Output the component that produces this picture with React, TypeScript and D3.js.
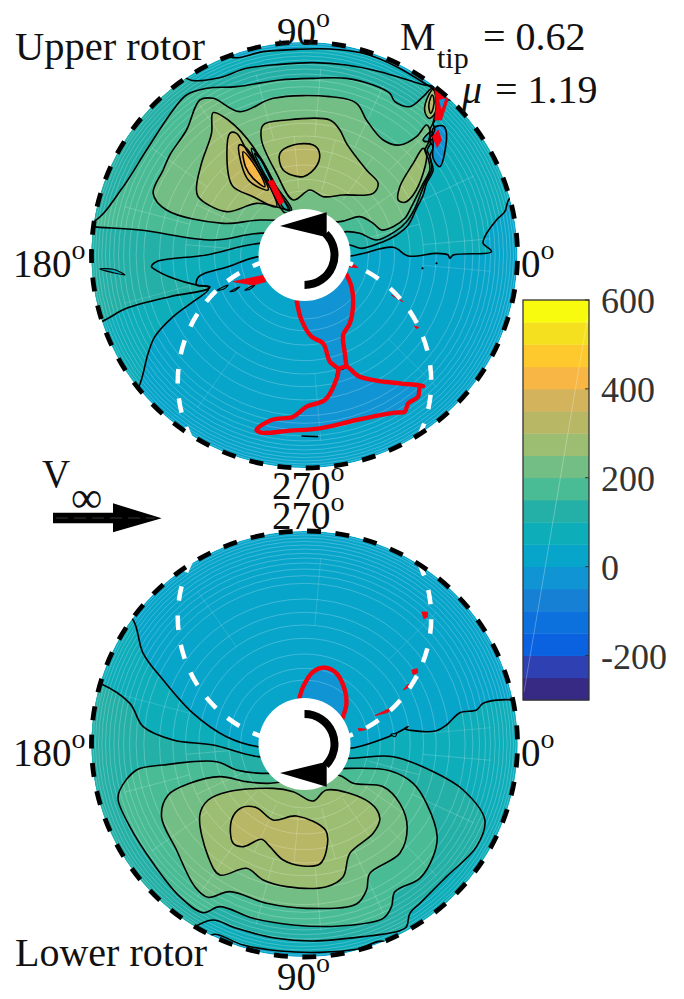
import React from "react";
import * as d3 from "d3";

type P = [number, number];

// Colour scale (bottom to top of the colour bar), 50 per band
const cbarTicks = [-200, 0, 200, 400, 600];
const cbarDomain: [number, number] = [-300, 600];
const colorBands = ["#362a85","#2f40b3","#0a62e1","#0c70dd","#1580d4","#1094d4","#08a5cb","#0eadba","#24b0a6","#49bc96","#73be84","#9cbe72","#b8b766","#d4b35d","#f8b744","#fdc92d","#f4e01f","#f9fb0e"];
const mu = 1.19;

// Contours, rotor-plane coordinates (rotor tip = 639), y pointing to 90 deg on the upper rotor plane
const U75: P[] = [[-499,-400],[-469,-295],[-449,-245],[-394,-185],[-334,-140],[-289,-105],[-289,-95],[-324,-90],[-319,-67],[-299,-55],[-229,-35],[-139,-5],[136,-3],[266,23],[311,-3],[396,5],[431,0],[436,-10],[446,0],[561,10],[536,35],[541,55],[576,105],[601,130],[616,170],[720,200],[700,500],[520,560],[436,465],[376,505],[276,565],[176,605],[76,618],[-24,617],[-124,610],[-224,595],[-300,700],[-800,700],[-800,-500],[-560,-480]];
const U125: P[] = [[-609,-200],[-534,-160],[-404,-125],[-289,-102],[-284,-95],[-324,-90],[-394,-70],[-454,-40],[-459,-35],[-444,-20],[-294,0],[-134,35],[136,30],[171,20],[236,40],[276,60],[311,90],[336,140],[356,180],[366,215],[386,255],[376,295],[386,325],[374,345],[391,375],[386,395],[400,455],[385,505],[361,510],[326,520],[226,550],[126,570],[26,577],[-74,572],[-174,560],[-264,530],[-354,530],[-400,620],[-800,300],[-800,-300],[-700,-230]];
const U175: P[] = [[-634,100],[-544,205],[-474,315],[-394,435],[-354,480],[-294,500],[-204,505],[-74,525],[26,530],[126,530],[206,510],[256,485],[271,460],[316,445],[356,475],[384,500],[401,445],[391,405],[376,375],[378,335],[368,315],[378,290],[381,255],[361,215],[351,190],[331,140],[306,100],[271,70],[216,45],[166,65],[126,70],[106,65],[-139,65],[-274,45],[-494,75],[-639,85],[-720,95]];
const U225: P[] = [[-454,185],[-424,255],[-404,300],[-354,375],[-314,465],[-274,470],[-194,430],[-94,470],[76,475],[156,455],[186,405],[236,345],[286,330],[336,355],[366,390],[376,375],[371,335],[361,315],[371,290],[376,255],[356,215],[341,185],[321,145],[301,110],[266,85],[231,75],[206,95],[166,115],[106,100],[-134,105],[-244,95],[-414,135]];
const U275a: P[] = [[-274,427],[-229,405],[-154,325],[-84,195],[-44,135],[-84,145],[-144,155],[-234,130],[-319,175],[-324,205],[-309,275],[-279,365]];
const U275b: P[] = [[-124,390],[-54,405],[76,405],[106,375],[126,335],[186,255],[221,215],[206,185],[116,180],[56,175],[16,195],[-34,165],[-84,245],[-129,345]];
const U275c: P[] = [[356,320],[326,275],[286,205],[281,165],[301,158],[326,180],[356,245],[366,305]];
const U275d: P[] = [[386,497],[366,465],[361,430],[374,410],[391,425],[394,470]];
const U325a: P[] = [[-224,365],[-204,365],[-174,315],[-114,225],[-84,145],[-154,175],[-214,205],[-229,245]];
const U325b: P[] = [[-74,305],[-34,330],[26,330],[44,310],[38,270],[-4,235],[-64,255]];
const U325c: P[] = [[383,480],[373,450],[378,425],[386,440],[388,470]];
const U375: P[] = [[-196,330],[-174,320],[-124,235],[-109,195],[-164,220],[-184,255]];
const U425: P[] = [[-184,310],[-164,290],[-124,225],[-119,205],[-154,230],[-177,265]];
const UFront: P[] = [[-159,320],[-134,295],[-84,205],[-39,135],[-59,127],[-104,205],[-144,275]];
const UFrontInner: P[] = [[-150,305],[-130,285],[-82,198],[-49,137],[-62,140],[-98,205],[-136,272]];
const UWedge: P[] = [[356,345],[381,370],[386,350],[366,340]];
const UIsle1: P[] = [[-614,-42],[-574,-43],[-539,-60],[-574,-53]];
const UIsle2: P[] = [[-262,-105],[-229,-90],[-244,-103]];
const UIsle3: P[] = [[-224,-110],[-194,-95],[-209,-107]];
const UIsle4: P[] = [[-179,-105],[-149,-90],[-164,-103]];
const UNeck: P[] = [[-24,-135],[-9,-195],[21,-245],[56,-265],[76,-320],[101,-343],[126,-335],[121,-295],[116,-240],[136,-205],[146,-145],[141,-95],[124,-55],[0,0]];
const UNegLobe: P[] = [[101,-343],[91,-385],[61,-435],[6,-455],[-34,-485],[-99,-495],[-144,-525],[-129,-533],[-44,-527],[46,-520],[156,-495],[271,-473],[301,-470],[311,-445],[341,-425],[346,-395],[356,-393],[286,-385],[216,-377],[161,-363],[126,-335]];
const UBlueLobe: P[] = [[386,380],[416,387],[426,365],[406,265],[386,290],[386,335]];
const UBlueV: P[] = [[404,465],[423,470],[411,435]];
const UZeroA: P[] = [[-24,-135],[-9,-195],[21,-245],[56,-265],[76,-320],[101,-343],[91,-385],[61,-435],[6,-455],[-34,-485],[-99,-495],[-144,-525],[-129,-533],[-44,-527],[46,-520],[156,-495],[271,-473],[301,-470],[311,-445],[341,-425],[346,-395],[356,-393],[286,-385],[216,-377],[161,-363],[126,-335],[101,-343]];
const UZeroB: P[] = [[126,-335],[121,-295],[116,-240],[136,-205],[146,-145],[141,-95],[124,-55]];
const URedBits: P[][] = [
  [[-109,220],[-94,225],[-62,160],[-74,150]],
  [[391,500],[431,467],[411,405],[391,405],[396,450]],
  [[401,375],[411,345],[398,323],[384,355]],
  [[-214,-80],[-119,-60],[-116,-80],[-154,-90],[-184,-85]],
  [[126,-35],[161,-38],[151,-30]],
  [[261,-120],[296,-140],[286,-135]],
  [[329,-213],[343,-217],[336,-221]],
];
const UMarks: P[] = [[-9,-543],[41,-545]];
const UDots: P[] = [[354,-40],[396,-25]];

const L75: P[] = [[-514,372],[-484,272],[-424,192],[-334,92],[-234,22],[-139,-8],[136,-13],[226,12],[271,30],[311,52],[301,47],[326,40],[396,40],[426,57],[466,94],[516,102],[536,122],[626,132],[720,100],[720,-720],[300,-700],[241,-593],[156,-616],[46,-625],[-74,-621],[-184,-603],[-279,-573],[-320,-680],[-800,-680],[-800,400],[-570,420]];
const L125: P[] = [[-614,182],[-524,122],[-484,52],[-394,12],[-274,-3],[-139,-38],[131,-43],[266,-38],[386,-83],[476,-138],[541,-228],[516,-308],[426,-398],[346,-478],[316,-508],[306,-548],[286,-560],[176,-578],[26,-591],[-84,-583],[-204,-553],[-274,-528],[-319,-543],[-400,-600],[-800,-500],[-800,250],[-680,200]];
const L175: P[] = [[-554,-138],[-504,-78],[-424,-63],[-264,-53],[-204,-78],[-129,-88],[131,-73],[256,-80],[326,-118],[366,-178],[398,-278],[386,-338],[346,-403],[271,-443],[261,-488],[236,-523],[106,-546],[-34,-543],[-154,-523],[-254,-488],[-304,-506],[-374,-458],[-454,-358],[-524,-248],[-559,-168]];
const L225: P[] = [[-429,-218],[-409,-153],[-344,-118],[-254,-98],[-174,-113],[-109,-118],[101,-93],[146,-118],[236,-128],[286,-178],[308,-248],[286,-328],[196,-388],[186,-438],[156,-480],[6,-493],[-114,-478],[-224,-443],[-289,-460],[-329,-428],[-384,-318]];
const L275: P[] = [[-314,-213],[-289,-168],[-229,-143],[-94,-133],[-34,-143],[26,-171],[66,-138],[196,-176],[226,-223],[206,-268],[136,-328],[116,-398],[66,-428],[-54,-428],[-124,-408],[-174,-373],[-254,-393],[-289,-338]];
const L325: P[] = [[-219,-228],[-189,-191],[-144,-191],[-94,-228],[-24,-216],[64,-260],[66,-318],[46,-360],[-4,-366],[-64,-348],[-104,-308],[-129,-286],[-184,-308],[-214,-298]];
const LNeg: P[] = [[-16,134],[-4,172],[26,217],[61,229],[96,212],[121,162],[126,122],[113,75],[0,0]];
const LZero: P[] = [[-16,134],[-4,172],[26,217],[61,229],[96,212],[121,162],[126,122],[113,75]];
const LIsle: P[] = [[259,29],[276,30],[271,22]];
const LRedBits: P[][] = [
  [[352,396],[370,396],[368,380],[358,376]],
  [[322,222],[338,226],[340,214],[326,208]],
  [[296,162],[311,180],[316,172]],
  [[211,85],[256,107],[251,95]],
  [[161,47],[186,44],[164,39]],
];

// Mesh lines of the plotted grid
const gridRadii = [192,227,270,317,357,395,435,482,505,525,543,558,572,585,597,608,618,627,634];
const spokeAngles = d3.range(5, 180, 10);
const spokeRunsInner = [200, 357];
const spokeRunsOuter = [357, 560];

const V = d3.scaleLinear().domain(cbarDomain).range([700, 300]);
const bandColor = d3.scaleQuantize<string>().domain(cbarDomain).range(colorBands);
const R = 213;
const CX = 304.5;
const FONT = "'Liberation Serif','Times New Roman',serif";
const RED = "#f5000f";

type Layer = { pts: P[]; v: number };

function Disc({ id, cy, flip, layers, thin, zero, bits, extra, rimOffset, whiteOffset }: any) {
  const x = d3.scaleLinear().domain([-639, 639]).range([CX - R, CX + R]);
  const y = d3.scaleLinear().domain([-639, 639]).range([cy + R, cy - R]);
  const smooth = d3.line<P>().x(d => x(d[0])).y(d => y(d[1])).curve(d3.curveCatmullRomClosed.alpha(0.5));
  const open = d3.line<P>().x(d => x(d[0])).y(d => y(d[1])).curve(d3.curveCatmullRom.alpha(0.5));
  const closed = d3.line<P>().x(d => x(d[0])).y(d => y(d[1])).curve(d3.curveLinearClosed);
  const sign = flip ? -1 : 1;
  const circleR = (mu / 2) * R;
  const armArc = d3.arc();
  const arm = flip
    ? armArc({ innerRadius: 26, outerRadius: 34, startAngle: 0, endAngle: (3 * Math.PI) / 4 } as any)
    : armArc({ innerRadius: 26, outerRadius: 34, startAngle: Math.PI / 4, endAngle: Math.PI } as any);
  const head = flip
    ? `M280,${cy + 29}L326.7,${cy + 17.7}L326.7,${cy + 42.7}Z`
    : `M280,${cy - 29}L326.7,${cy - 42.7}L326.7,${cy - 17.7}Z`;
  return (
    <g>
      <defs>
        <clipPath id={id}><circle cx={CX} cy={cy} r={R} /></clipPath>
      </defs>
      <g clipPath={`url(#${id})`}>
        <circle cx={CX} cy={cy} r={R} fill={bandColor(25)} />
        {layers.map((l: Layer, i: number) => (
          <path key={i} d={smooth(l.pts) as string} fill={bandColor(l.v)} />
        ))}
        {gridRadii.map(r => (
          <circle key={r} cx={CX} cy={cy} r={x(r) - x(0)} fill="none" stroke="#fff" strokeOpacity={0.32} strokeWidth={0.7} />
        ))}
        {spokeAngles.map((a, i) => {
          const t = (a * Math.PI) / 180;
          const run = i % 2 ? spokeRunsInner : spokeRunsOuter;
          return (
            <g key={a}>
              <line x1={x(run[0] * Math.cos(t))} y1={y(sign * run[0] * Math.sin(t))} x2={x(run[1] * Math.cos(t))} y2={y(sign * run[1] * Math.sin(t))} stroke="#fff" strokeOpacity={0.28} strokeWidth={0.7} />
              {i % 4 === 0 && (
                <line x1={x(run[0] * Math.cos(t))} y1={y(-sign * run[0] * Math.sin(t))} x2={x(run[1] * Math.cos(t))} y2={y(-sign * run[1] * Math.sin(t))} stroke="#fff" strokeOpacity={0.2} strokeWidth={0.7} />
              )}
            </g>
          );
        })}
        {layers.map((l: Layer, i: number) => (
          <path key={i} d={smooth(l.pts) as string} fill="none" stroke="#000" strokeWidth={1.6} />
        ))}
        {thin.map((pts: P[], i: number) => (
          <path key={i} d={smooth(pts) as string} fill={bandColor(75)} stroke="#000" strokeWidth={1.1} />
        ))}
        {zero.map((pts: P[], i: number) => (
          <path key={i} d={open(pts) as string} fill="none" stroke={RED} strokeWidth={4.4} strokeLinejoin="round" />
        ))}
        {bits.map((pts: P[], i: number) => (
          <path key={i} d={closed(pts) as string} fill={RED} stroke={RED} strokeWidth={0.8} />
        ))}
        {extra && extra(x, y)}
        <circle cx={CX} cy={cy + (flip ? -1 : 1) * circleR} r={circleR} fill="none" stroke="#fff" strokeWidth={4.5} strokeDasharray="14.5 14.98" strokeDashoffset={whiteOffset} />
      </g>
      <circle cx={CX} cy={cy} r={46} fill="#fff" />
      <path d={arm as string} transform={`translate(${CX},${cy})`} fill="#000" />
      <path d={head} fill="#000" />
      <circle cx={CX} cy={cy} r={R} fill="none" stroke="#000" strokeWidth={4.8} strokeDasharray="14 14.47" strokeDashoffset={rimOffset} />
    </g>
  );
}

function Deg({ x, y, t }: { x: number; y: number; t: string }) {
  return (
    <text x={x} y={y} fontSize={39} fontFamily={FONT} fill="#111">
      {t}
      <tspan dy={-18} fontSize={28}>o</tspan>
    </text>
  );
}

export default function App() {
  const upperLayers: Layer[] = [
    { pts: U75, v: 75 }, { pts: U125, v: 125 }, { pts: U175, v: 175 }, { pts: U225, v: 225 },
    { pts: U275a, v: 275 }, { pts: U275b, v: 275 }, { pts: U275c, v: 275 }, { pts: U275d, v: 275 },
    { pts: U325a, v: 325 }, { pts: U325b, v: 325 }, { pts: U325c, v: 325 },
    { pts: U375, v: 375 }, { pts: U425, v: 425 }, { pts: UFront, v: 175 }, { pts: UFrontInner, v: 125 }, { pts: UWedge, v: 125 },
    { pts: UNeck, v: -25 }, { pts: UNegLobe, v: -25 }, { pts: UBlueLobe, v: -25 },
  ];
  const lowerLayers: Layer[] = [
    { pts: L75, v: 75 }, { pts: L125, v: 125 }, { pts: L175, v: 175 }, { pts: L225, v: 225 },
    { pts: L275, v: 275 }, { pts: L325, v: 325 }, { pts: LNeg, v: -25 },
  ];
  const cb = V.range();
  const bands = d3.range(cbarDomain[0], cbarDomain[1], 50);
  return (
    <svg width={684} height={999} style={{ position: "absolute", left: 0, top: 0, display: "block", background: "#fff" }}>
      <Disc
        id="clipU" cy={255} flip={false} layers={upperLayers} rimOffset={22.5} whiteOffset={16.5}
        thin={[UIsle1, UIsle2, UIsle3, UIsle4]} zero={[UZeroA, UZeroB]} bits={URedBits}
        extra={(x: any, y: any) => (
          <g>
            <path d={d3.line<P>().x(d => x(d[0])).y(d => y(d[1]))(UBlueV) as string} fill={bandColor(-25)} />
            <line x1={x(UMarks[0][0])} y1={y(UMarks[0][1])} x2={x(UMarks[1][0])} y2={y(UMarks[1][1])} stroke="#000" strokeWidth={1.6} />
            {UDots.map((d, i) => <circle key={i} cx={x(d[0])} cy={y(d[1])} r={1.1} fill="#000" />)}
          </g>
        )}
      />
      <Disc
        id="clipL" cy={744} flip={true} layers={lowerLayers} rimOffset={19} whiteOffset={27.5}
        thin={[LIsle]} zero={[LZero]} bits={LRedBits}
      />

      {/* colour bar */}
      {bands.map(b => (
        <rect key={b} x={523} y={V(b + 50)} width={66} height={V(b) - V(b + 50) + 0.4} fill={bandColor(b + 25)} />
      ))}
      <line x1={524} y1={692} x2={588} y2={315} stroke="#fff" strokeOpacity={0.4} strokeWidth={0.7} />
      <rect x={523} y={cb[1]} width={66} height={cb[0] - cb[1]} fill="none" stroke="#333" strokeWidth={1.3} />
      {cbarTicks.map(t => (
        <g key={t}>
          <line x1={585} x2={589} y1={V(t)} y2={V(t)} stroke="#333" strokeWidth={1} />
          <text x={601} y={V(t) + 13} fontSize={36} fontFamily={FONT} fill="#333">{t}</text>
        </g>
      ))}

      {/* text */}
      <text x={15} y={60} fontSize={40.5} fontFamily={FONT} fill="#111">Upper rotor</text>
      <text x={15} y={966} fontSize={40} fontFamily={FONT} fill="#111">Lower rotor</text>
      <Deg x={277} y={45} t="90" />
      <Deg x={277} y={990} t="90" />
      <Deg x={13} y={277} t="180" />
      <Deg x={13} y={766} t="180" />
      <Deg x={521} y={277} t="0" />
      <Deg x={521} y={766} t="0" />
      <Deg x={272} y={499} t="270" />
      <Deg x={272} y={529} t="270" />
      <text x={400} y={50} fontSize={40} fontFamily={FONT} fill="#111">M</text>
      <text x={437} y={68} fontSize={30} fontFamily={FONT} fill="#111">tip</text>
      <text x={483} y={50} fontSize={40} fontFamily={FONT} fill="#111">= 0.62</text>
      <text x={462} y={103} fontSize={40} fontFamily={FONT} fontStyle="italic" fill="#111">{"\u03bc"}</text>
      <text x={495} y={103} fontSize={40} fontFamily={FONT} fill="#111">= 1.19</text>
      <text x={42} y={487} fontSize={39} fontFamily={FONT} fill="#111">V</text>
      <text x={71} y={512} fontSize={44} fontFamily={FONT} fill="#111">{"\u221e"}</text>
      <path d="M53,512.7L113,512.7L113,503.3L161.7,518.3L113,532.3L113,523.3L53,523.3Z" fill="#000" />
      <line x1={56} y1={518} x2={155} y2={518} stroke="#fff" strokeOpacity={0.3} strokeWidth={0.7} strokeDasharray="12 6" />
    </svg>
  );
}
